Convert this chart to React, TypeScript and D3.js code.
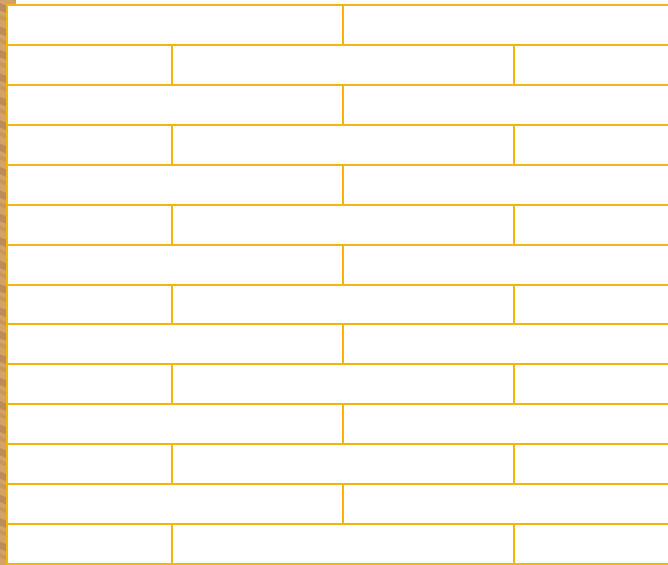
// App.tsx
import React, { useEffect, useRef } from 'react';
import * as d3 from 'd3';

// brick courses, top to bottom
const courses = ['1', '2', '3', '4', '5', '6', '7', '8', '9', '10', '11', '12', '13', '14'];
// joint offset of each course, in brick lengths
const courseOffsets = [0, 0.5, 0, 0.5, 0, 0.5, 0, 0.5, 0, 0.5, 0, 0.5, 0, 0.5];
// wall start and visible end, in brick lengths
const wallStart = 0.0165;
const wallEnd = 2;

const width = 668;
const height = 565;
const mortar = '#f5b30c';

const BrickWall: React.FC = () => {
  const svgRef = useRef<SVGSVGElement>(null);

  useEffect(() => {
    const svg = d3.select(svgRef.current);
    svg.selectAll('*').remove();

    const x = d3.scaleLinear().domain([0, 2]).range([1.4, 685.4]);
    const y = d3.scaleBand().domain(courses).range([5, 564]);
    const rx = (u: number) => Math.round(x(u));
    const ry = (c: string) => Math.round(y(c) as number);

    // wood strip on the left
    const defs = svg.append('defs');
    const pat = defs.append('pattern')
      .attr('id', 'wood')
      .attr('patternUnits', 'userSpaceOnUse')
      .attr('width', 8)
      .attr('height', 22)
      .attr('patternTransform', 'rotate(20)');
    pat.append('rect').attr('width', 8).attr('height', 22).attr('fill', '#d4a16b');
    pat.append('rect').attr('y', 3).attr('width', 8).attr('height', 7).attr('fill', '#b98b5d');
    pat.append('rect').attr('y', 14).attr('width', 8).attr('height', 4).attr('fill', '#c8965f');

    svg.append('rect')
      .attr('x', 0).attr('y', 0)
      .attr('width', rx(wallStart) - 1).attr('height', height)
      .attr('fill', 'url(#wood)');
    svg.append('rect')
      .attr('x', 0).attr('y', 0)
      .attr('width', 16).attr('height', 4)
      .attr('fill', 'url(#wood)');

    const g = svg.append('g')
      .attr('stroke', mortar)
      .attr('stroke-width', 2)
      .attr('fill', 'none');

    // horizontal mortar lines
    const edges = courses.map(c => ry(c)).concat([Math.round((y(courses[courses.length - 1]) as number) + y.bandwidth())]);
    g.selectAll('line.h')
      .data(edges)
      .enter()
      .append('line')
      .attr('class', 'h')
      .attr('x1', rx(wallStart) - 1)
      .attr('x2', width + 2)
      .attr('y1', d => d)
      .attr('y2', d => d);

    // left edge
    g.append('line')
      .attr('x1', rx(wallStart)).attr('x2', rx(wallStart))
      .attr('y1', edges[0]).attr('y2', edges[edges.length - 1] + 1);

    // vertical joints per course
    const joints: { i: number; u: number }[] = [];
    courses.forEach((c, i) => {
      for (let k = 0; k < 3; k++) {
        const u = courseOffsets[i] + k;
        if (u > wallStart + 0.05 && u < wallEnd) joints.push({ i, u });
      }
    });
    g.selectAll('line.v')
      .data(joints)
      .enter()
      .append('line')
      .attr('class', 'v')
      .attr('x1', d => rx(d.u))
      .attr('x2', d => rx(d.u))
      .attr('y1', d => edges[d.i])
      .attr('y2', d => edges[d.i + 1]);
  }, []);

  return (
    <svg
      ref={svgRef}
      width={width}
      height={height}
      style={{ position: 'absolute', left: 0, top: 0, background: '#fff' }}
    ></svg>
  );
};

const App: React.FC = () => {
  return <BrickWall />;
};

export default App;
